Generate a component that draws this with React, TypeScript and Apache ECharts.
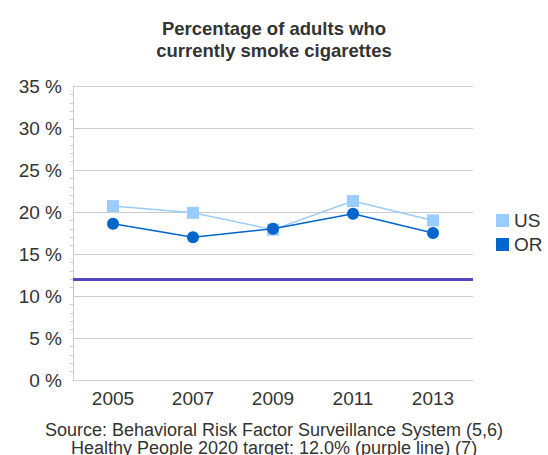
import React, { useEffect, useRef } from "react";
import * as echarts from "echarts";

const years = ["2005", "2007", "2009", "2011", "2013"];
const usValues = [20.7, 19.9, 17.9, 21.3, 19.0];
const orValues = [18.6, 17.0, 18.0, 19.8, 17.5];
const targetValue = 12.0;
const titleText = "Percentage of adults who\ncurrently smoke cigarettes";
const footerLines = [
  "Source: Behavioral Risk Factor Surveillance System (5,6)",
  "Healthy People 2020 target: 12.0% (purple line) (7)",
];

const FONT = "'Liberation Sans', Arial, sans-serif";

export default function App() {
  const ref = useRef<HTMLDivElement>(null);
  useEffect(() => {
    if (!ref.current) return;
    const chart = echarts.init(ref.current, null, { renderer: "svg" });
    chart.setOption({
      animation: false,
      backgroundColor: "#ffffff",
      title: {
        text: titleText,
        left: "center",
        top: 12,
        textStyle: {
          fontFamily: FONT,
          fontSize: 18.5,
          fontWeight: "bold",
          color: "#333333",
          lineHeight: 22,
        },
      },
      legend: {
        orient: "vertical",
        left: 491,
        top: 206,
        itemWidth: 13,
        itemHeight: 13,
        itemGap: 5,
        icon: "rect",
        textStyle: { fontFamily: FONT, fontSize: 19, color: "#333333", padding: [0, 0, 0, 0] },
        data: ["US", "OR"],
      },
      grid: { left: 73, right: 75, top: 86, bottom: 75, containLabel: false },
      xAxis: {
        type: "category",
        data: years,
        boundaryGap: true,
        axisLine: { lineStyle: { color: "#cccccc" } },
        axisTick: { show: false },
        axisLabel: { fontFamily: FONT, fontSize: 19, color: "#333333", margin: 9 },
      },
      yAxis: {
        type: "value",
        min: 0,
        max: 35,
        interval: 5,
        axisLine: { show: true, lineStyle: { color: "#cccccc" } },
        axisTick: { show: false },
        minorTick: { show: true, splitNumber: 5, length: 3, lineStyle: { color: "#cccccc" } },
        splitLine: { lineStyle: { color: "#cccccc" } },
        axisLabel: {
          fontFamily: FONT,
          fontSize: 19,
          color: "#333333",
          margin: 11,
          formatter: "{value} %",
        },
      },
      series: [
        {
          name: "US",
          type: "line",
          data: usValues,
          symbol: "rect",
          symbolSize: 12,
          lineStyle: { color: "#99ccff", width: 1.5 },
          itemStyle: { color: "#99ccff" },
          z: 2,
        },
        {
          name: "OR",
          type: "line",
          data: orValues,
          symbol: "circle",
          symbolSize: 12,
          lineStyle: { color: "#0066cc", width: 1.5 },
          itemStyle: { color: "#0066cc" },
          z: 3,
          markLine: {
            silent: true,
            symbol: "none",
            label: { show: false },
            lineStyle: { color: "#5548c0", width: 3, type: "solid" },
            data: [{ yAxis: targetValue }],
          },
        },
      ],
      graphic: footerLines.map((line, i) => ({
        type: "text",
        left: "center",
        top: 421 + i * 18,
        style: {
          text: line,
          font: `18px ${FONT}`,
          fill: "#333333",
        },
      })),
    });
    return () => chart.dispose();
  }, []);
  return (
    <div
      ref={ref}
      style={{ position: "absolute", left: 0, top: 0, width: 548, height: 455 }}
    />
  );
}
